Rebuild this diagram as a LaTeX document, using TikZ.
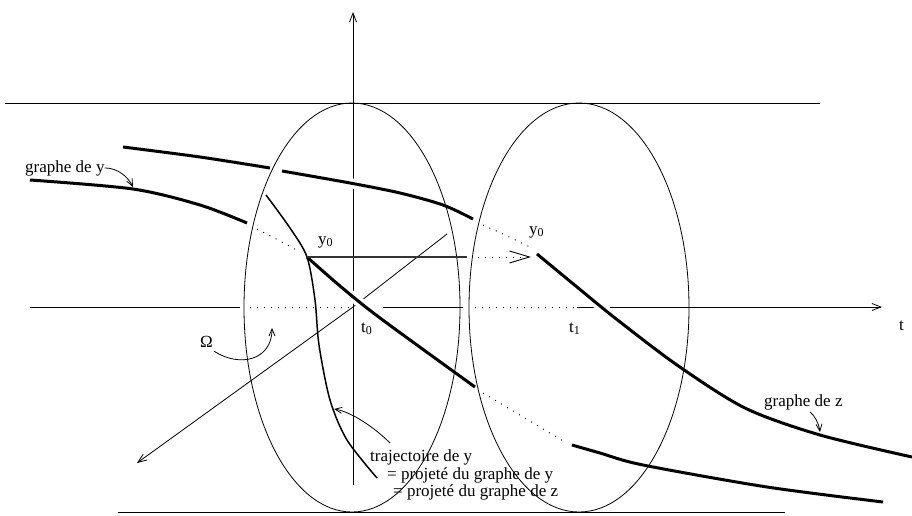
\documentclass[tikz,border=0pt]{standalone}
\usepackage{fontspec}
\setmainfont{Liberation Serif}
\usetikzlibrary{arrows.meta}
\newcommand{\subidx}[1]{\raisebox{-0.35ex}{\fontsize{12}{12}\selectfont #1}}

\begin{document}
\begin{tikzpicture}[
    x=1pt, y=-1pt,
    thinline/.style={line width=0.8pt},
    axisline/.style={line width=0.8pt, -{Straight Barb[length=9pt, width=7pt]}},
    graphline/.style={line width=3pt, preaction={draw=white, line width=10pt}},
    hidden/.style={line width=0.9pt, dash pattern=on 1pt off 6pt},
    traj/.style={line width=1.5pt},
    annot/.style={line width=0.8pt, -{Straight Barb[length=7pt, width=6pt]}},
    lbl/.style={font=\fontsize{17}{17}\selectfont, inner sep=0pt, anchor=base west}
]
\useasboundingbox (0,0) rectangle (912,516);

\coordinate (O) at (353,307);
\coordinate (Y0) at (307,257);
\coordinate (Y1) at (537,254);

% --- frame lines ---
\draw[thinline] (5,103) -- (820,103);
\draw[thinline] (118,512) -- (785,512);

% --- axes ---
\draw[thinline] (30,307) -- (240,307);
\draw[hidden] (250,307) -- (O);
\draw[thinline] (383,307) -- (463,307);
\draw[hidden] (475,307) -- (577,307);
\draw[axisline] (577,307) -- (882,307);
\draw[axisline] (353,485) -- (353,12);
\draw[axisline] (O) -- (137,463);
\draw[thinline] (O) -- (447,234);

% --- graphe de y ---
\draw[graphline] plot[smooth] coordinates {(123,147) (200,157) (270,168)};
\draw[graphline] plot[smooth] coordinates {(282,171) (350,183) (400,193) (443,205) (473,219)};
\draw[hidden] plot[smooth] coordinates {(483,225) (505,235) (530,247)};
\draw[graphline] plot[smooth] coordinates {(30,180) (133,189) (200,205) (247,223)};
\draw[hidden] plot[smooth] coordinates {(257,229) (280,241) (300,252)};

% --- graphe de z ---
\draw[graphline] plot[smooth] coordinates {(Y0) (340,286) (380,318) (475,387)};
\draw[hidden] (483,393) -- (565,442);
\draw[graphline] plot[smooth] coordinates {(572,445) (600,453) (643,465) (767,487) (883,502)};
\draw[graphline] plot[smooth] coordinates {(Y1) (577,287) (615,318) (677,365) (745,408) (820,435) (912,457)};

% --- sections t = t0 and t = t1 ---
\draw[thinline] (352,307.5) ellipse [x radius=108, y radius=204.5];
\draw[thinline] (579,307.5) ellipse [x radius=110, y radius=204.5];

% --- trajectoire, transport of y0 ---
\draw[traj] plot[smooth] coordinates {(266,195) (290,228) (Y0) (315,300) (319,345) (330,400) (347,440) (377,478)};
\draw[line width=1.8pt, black!80] (Y0) -- (467,257);
\draw[hidden, -{Straight Barb[length=20pt, width=12pt]}] (478,257) -- (531,257);

% --- labels ---
\node[lbl] (y0a) at (318,244) {y\subidx{0}};
\node[lbl] (y0b) at (529,234) {y\subidx{0}};
\node[lbl] (t0) at (361,332) {t\subidx{0}};
\node[lbl] (t1) at (569,332) {t\subidx{1}};
\node[lbl] (t) at (899,330) {t};
\node[lbl] (om) at (200,347) {Ω};
\node[lbl] (gy) at (25,172) {graphe de y};
\node[lbl] (gz) at (764,406) {graphe de z};
\node[lbl] (tr1) at (370,461) {trajectoire de y};
\node[lbl] (tr2) at (387,479) {= projeté du graphe de y};
\node[lbl] (tr3) at (393,496) {= projeté du graphe de z};

% --- pointers ---
\coordinate (gyTip) at (133,187);
\coordinate (omTip) at (272,328);
\coordinate (trTip) at (334,409);
\coordinate (gzTip) at (820,432);
\draw[annot] (gy.east) .. controls (118,168) and (128,177) .. (gyTip);
\draw[annot] ([xshift=1pt,yshift=-4pt]om.south east) .. controls (240,368) and (272,360) .. (omTip);
\draw[annot] ([xshift=20pt,yshift=6pt]tr1.north west) .. controls (375,428) and (352,412) .. (trTip);
\draw[annot] ([xshift=46pt,yshift=-2pt]gz.south west) .. controls (815,416) and (819,424) .. (gzTip);

\end{tikzpicture}
\end{document}
